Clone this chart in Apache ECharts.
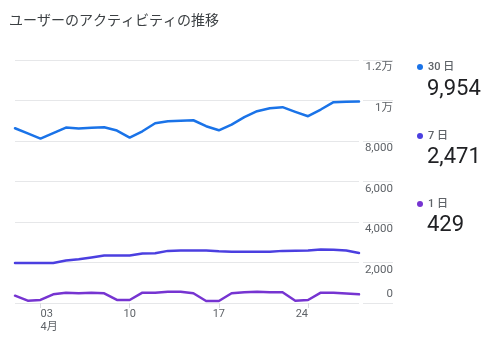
<!DOCTYPE html>
<html>
<head>
<meta charset="utf-8">
<script src="https://cdn.jsdelivr.net/npm/echarts@6/dist/echarts.min.js"></script>
<style>
  html, body { margin: 0; padding: 0; background: #fff; }
  #chart { width: 501px; height: 346px; }
</style>
</head>
<body>
<div id="chart"></div>
<script>
// April, day by day
const dates = ['01','02','03','04','05','06','07','08','09','10','11','12','13','14',
               '15','16','17','18','19','20','21','22','23','24','25','26','27','28'];
const monthLabel = '4月';
const tickDays = ['03', '10', '17', '24'];

// Active users over rolling windows
const seriesNames = ['30 日', '7 日', '1 日'];
const users30 = [8629, 8374, 8119, 8390, 8663, 8614, 8650, 8679, 8515, 8168, 8480, 8876, 8975, 9000,
                 9025, 8730, 8530, 8812, 9175, 9472, 9620, 9670, 9440, 9225, 9554, 9916, 9935, 9954];
const users7  = [1980, 1980, 1980, 1980, 2094, 2163, 2250, 2342, 2342, 2342, 2440, 2460, 2574, 2589,
                 2589, 2589, 2550, 2525, 2525, 2525, 2525, 2574, 2580, 2589, 2639, 2630, 2590, 2471];
const users1  = [361, 114, 150, 430, 510, 480, 510, 480, 150, 150, 510, 510, 560, 560,
                 480, 100, 100, 480, 530, 560, 530, 530, 114, 150, 510, 510, 470, 429];

const yMin = 0, yMax = 12000, yStep = 2000;
const colors = ['#1a73e8', '#4b3fe0', '#7634d1'];
const font = 'Roboto, "Noto Sans CJK JP", sans-serif';
const gridColor = '#e6e7e9';

const fmtNum = v => v >= 10000 ? (v / 10000) + '万' : v.toLocaleString('en-US');

const chart = echarts.init(document.getElementById('chart'), null, { renderer: 'canvas' });

const categoryData = dates.map(d => {
  if (d === '03') return { value: d, textStyle: { align: 'left' } };
  if (d === '24') return { value: d, textStyle: { align: 'right' } };
  return d;
});
const showTick = (i, v) => tickDays.indexOf(v) >= 0;

const seriesData = [users30, users7, users1];
const legendCenters = [67, 136, 204];
const valueTops = [76, 144, 212];

chart.setOption({
  animation: false,
  title: [
    {
      text: 'ユーザーのアクティビティの推移',
      left: 9, top: 10, padding: 0,
      textStyle: { fontSize: 14, fontWeight: 'normal', color: '#3c4043',
                   fontFamily: '"Noto Sans CJK JP", sans-serif', lineHeight: 20 }
    }
  ].concat(seriesData.map((arr, k) => ({
    text: fmtNum(arr[arr.length - 1]),
    left: 427, top: valueTops[k], padding: 0,
    textStyle: { fontSize: 22, fontWeight: 'normal', color: '#202124', fontFamily: font, lineHeight: 26 }
  }))),
  legend: seriesNames.map((name, k) => ({
    data: [name],
    left: 417, top: legendCenters[k] - 7, padding: 0,
    orient: 'vertical',
    icon: 'circle', itemWidth: 6, itemHeight: 6,
    selectedMode: false,
    textStyle: { fontSize: 11, fontWeight: 500, color: '#5f6368', fontFamily: font, lineHeight: 14 }
  })),
  grid: [
    { left: 15, right: 142, top: 60, bottom: 43 },
    { left: 363, right: 108, top: 60, bottom: 43 }
  ],
  xAxis: [
    {
      type: 'category', gridIndex: 0, data: categoryData, boundaryGap: false,
      axisLine: { show: false },
      axisTick: { show: true, interval: showTick, length: 5, lineStyle: { color: '#dadce0' } },
      axisLabel: {
        interval: showTick, margin: 5, fontSize: 11, lineHeight: 13, color: '#5f6368', fontFamily: font,
        formatter: v => v === tickDays[0] ? v + '\n' + monthLabel : v
      },
      splitLine: { show: false }
    },
    { type: 'value', gridIndex: 1, min: 0, max: 1, show: false }
  ],
  yAxis: [
    {
      type: 'value', gridIndex: 0, min: yMin, max: yMax, interval: yStep, position: 'right',
      axisLine: { show: false }, axisTick: { show: false }, axisLabel: { show: false },
      splitLine: { lineStyle: { color: gridColor, width: 1 } }
    },
    {
      type: 'value', gridIndex: 1, min: yMin, max: yMax, interval: yStep, position: 'right',
      axisLine: { show: false }, axisTick: { show: false },
      axisLabel: {
        inside: true, margin: 0, fontSize: 11.5, color: '#5f6368', fontFamily: font,
        verticalAlign: 'middle',
        formatter: v => v === 0 ? '{z|0}' : '{d|' + fmtNum(v) + '}',
        rich: {
          d: { fontSize: 11.5, color: '#5f6368', fontFamily: font, lineHeight: 13, padding: [15, 0, 0, 0] },
          z: { fontSize: 11.5, color: '#5f6368', fontFamily: font, lineHeight: 13, padding: [0, 0, 18, 0] }
        }
      },
      splitLine: { lineStyle: { color: gridColor, width: 1 } }
    }
  ],
  series: seriesData.map((arr, k) => ({
    name: seriesNames[k],
    type: 'line',
    xAxisIndex: 0, yAxisIndex: 0,
    data: arr,
    showSymbol: false,
    smooth: false,
    color: colors[k],
    lineStyle: { width: 2.5, color: colors[k], join: 'round', cap: 'round' },
    z: 3 - k
  }))
});
</script>
</body>
</html>
